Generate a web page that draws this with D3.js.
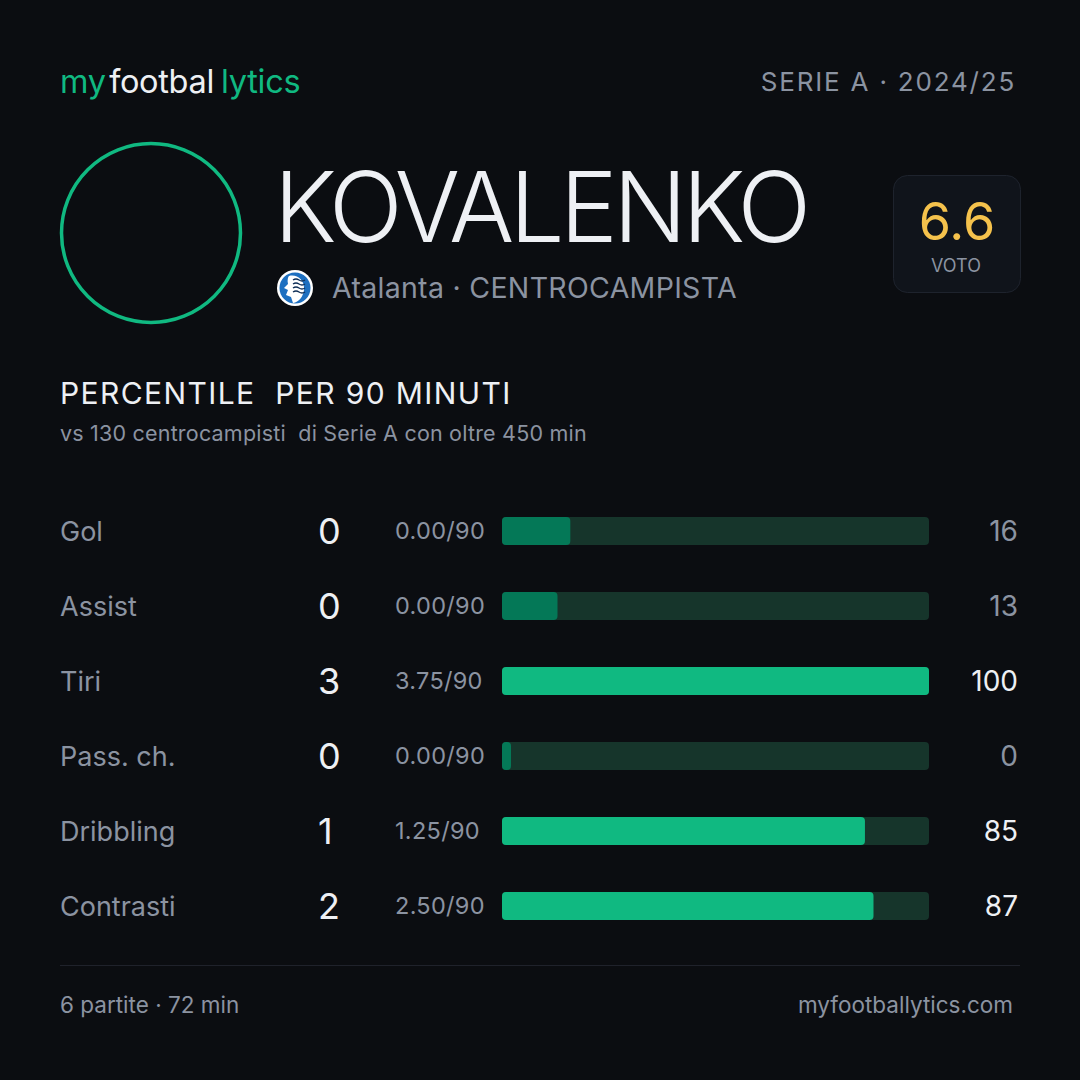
<!DOCTYPE html>
<html lang="it">
<head>
    <meta charset="UTF-8">
    <title>Kovalenko - percentili per 90 minuti</title>
    <script src="https://d3js.org/d3.v7.min.js"></script>
    <style>
        body {
            margin: 0;
            background-color: #0b0d11;
        }
        svg {
            display: block;
            font-family: 'Inter', 'Noto Sans', sans-serif;
        }
    </style>
</head>
<body>
    <div id="chart"></div>
    <script>
        // Dati
        const labels = ["Gol", "Assist", "Tiri", "Pass. ch.", "Dribbling", "Contrasti"];
        const totals = [0, 0, 3, 0, 1, 2];
        const per90 = [0.00, 0.00, 3.75, 0.00, 1.25, 2.50];
        const percentiles = [16, 13, 100, 0, 85, 87];

        const W = 1080, H = 1080;
        const green = "#10b981", greenDark = "#047857", track = "#16352b";
        const white = "#eef0f4", gray = "#8b93a1";

        const svg = d3.select("#chart")
            .append("svg")
            .attr("width", W)
            .attr("height", H);

        svg.append("rect").attr("width", W).attr("height", H).attr("fill", "#0b0d11");

        // Logo
        const logo = svg.append("text")
            .attr("x", 60).attr("y", 93)
            .attr("font-size", 32.5)
            .attr("letter-spacing", -0.3);
        logo.append("tspan").attr("fill", green).text("my");
        logo.append("tspan").attr("fill", white).attr("dx", 3).text("footbal");
        logo.append("tspan").attr("fill", green).attr("dx", 7).text("lytics");

        svg.append("text")
            .attr("x", 1016).attr("y", 91)
            .attr("text-anchor", "end")
            .attr("font-size", 26)
            .attr("letter-spacing", 1.8)
            .attr("fill", gray)
            .text("SERIE A · 2024/25");

        // Avatar
        svg.append("circle")
            .attr("cx", 151).attr("cy", 233).attr("r", 89.5)
            .attr("fill", "none")
            .attr("stroke", green)
            .attr("stroke-width", 3.5);

        // Nome
        svg.append("text")
            .attr("x", 274).attr("y", 242)
            .attr("font-size", 97)
            .attr("font-weight", 300)
            .attr("letter-spacing", -4.5)
            .attr("fill", white)
            .text("KOVALENKO");

        // Stemma squadra
        const crest = svg.append("g").attr("transform", "translate(295,288)");
        crest.append("circle").attr("r", 18).attr("fill", "#fff");
        crest.append("circle").attr("r", 15.5).attr("fill", "#1d6fc0");
        crest.append("path")
            .attr("d", "M-6,-12 C2,-14 10,-8 9,2 C8,9 4,14 -2,15 L-4,9 L-9,7 L-7,2 L-11,0 L-7,-4 C-8,-8 -7,-11 -6,-12 Z")
            .attr("fill", "#fff");
        [-8, -4, 0, 4].forEach(dy => {
            crest.append("path")
                .attr("d", `M-2,${dy} q3,-2 6,0 t6,0`)
                .attr("fill", "none")
                .attr("stroke", "#0f2f57")
                .attr("stroke-width", 1.4);
        });

        svg.append("text")
            .attr("x", 332).attr("y", 298)
            .attr("font-size", 28.5)
            .attr("letter-spacing", 0.3)
            .attr("fill", gray)
            .text("Atalanta · CENTROCAMPISTA");

        // Voto
        svg.append("rect")
            .attr("x", 893.5).attr("y", 175.5)
            .attr("width", 127).attr("height", 117)
            .attr("rx", 14)
            .attr("fill", "#10141b")
            .attr("stroke", "#1e232d");
        svg.append("text")
            .attr("x", 957).attr("y", 240)
            .attr("text-anchor", "middle")
            .attr("font-size", 52)
            .attr("fill", "#f5c24c")
            .text("6.6");
        svg.append("text")
            .attr("x", 956).attr("y", 272)
            .attr("text-anchor", "middle")
            .attr("font-size", 18)
            .attr("fill", gray)
            .text("VOTO");

        // Titolo sezione
        svg.append("text")
            .attr("x", 60).attr("y", 404)
            .attr("font-size", 30)
            .attr("letter-spacing", 1.4)
            .attr("fill", white)
            .attr("xml:space", "preserve")
            .text("PERCENTILE  PER 90 MINUTI");
        svg.append("text")
            .attr("x", 60).attr("y", 441)
            .attr("font-size", 21.5)
            .attr("letter-spacing", 0.2)
            .attr("fill", gray)
            .attr("xml:space", "preserve")
            .text("vs 130 centrocampisti  di Serie A con oltre 450 min");

        // Scale
        const y = d3.scaleBand()
            .domain(labels)
            .range([493.5, 943.5]);
        const x = d3.scaleLinear()
            .domain([0, 100])
            .range([502, 929]);

        const barH = 28;
        const rows = svg.selectAll(".row")
            .data(labels)
            .enter()
            .append("g")
            .attr("class", "row")
            .attr("transform", d => `translate(0,${y(d) + y.bandwidth() / 2})`);

        rows.append("text")
            .attr("x", 60).attr("y", 10)
            .attr("font-size", 27)
            .attr("fill", gray)
            .text(d => d);

        rows.append("text")
            .attr("x", 318).attr("y", 13)
            .attr("font-size", 36)
            .attr("fill", white)
            .text((d, i) => totals[i]);

        rows.append("text")
            .attr("x", 395).attr("y", 8)
            .attr("font-size", 23.5)
            .attr("letter-spacing", 0.3)
            .attr("fill", gray)
            .text((d, i) => per90[i].toFixed(2) + "/90");

        rows.append("rect")
            .attr("x", x(0)).attr("y", -barH / 2)
            .attr("width", x(100) - x(0)).attr("height", barH)
            .attr("rx", 4)
            .attr("fill", track);

        rows.append("rect")
            .attr("x", x(0)).attr("y", -barH / 2)
            .attr("width", (d, i) => Math.max(x(percentiles[i]) - x(0), 9))
            .attr("height", barH)
            .attr("rx", 4)
            .attr("fill", (d, i) => percentiles[i] >= 50 ? green : greenDark);

        rows.append("text")
            .attr("x", 1018).attr("y", 10)
            .attr("text-anchor", "end")
            .attr("font-size", 28)
            .attr("fill", (d, i) => percentiles[i] >= 50 ? white : gray)
            .text((d, i) => percentiles[i]);

        // Footer
        svg.append("line")
            .attr("x1", 60).attr("x2", 1020)
            .attr("y1", 965.5).attr("y2", 965.5)
            .attr("stroke", "#1f222b");
        svg.append("text")
            .attr("x", 60).attr("y", 1013)
            .attr("font-size", 22.5)
            .attr("fill", gray)
            .text("6 partite · 72 min");
        svg.append("text")
            .attr("x", 1013).attr("y", 1013)
            .attr("text-anchor", "end")
            .attr("font-size", 22.5)
            .attr("fill", gray)
            .text("myfootballytics.com");
    </script>
</body>
</html>
